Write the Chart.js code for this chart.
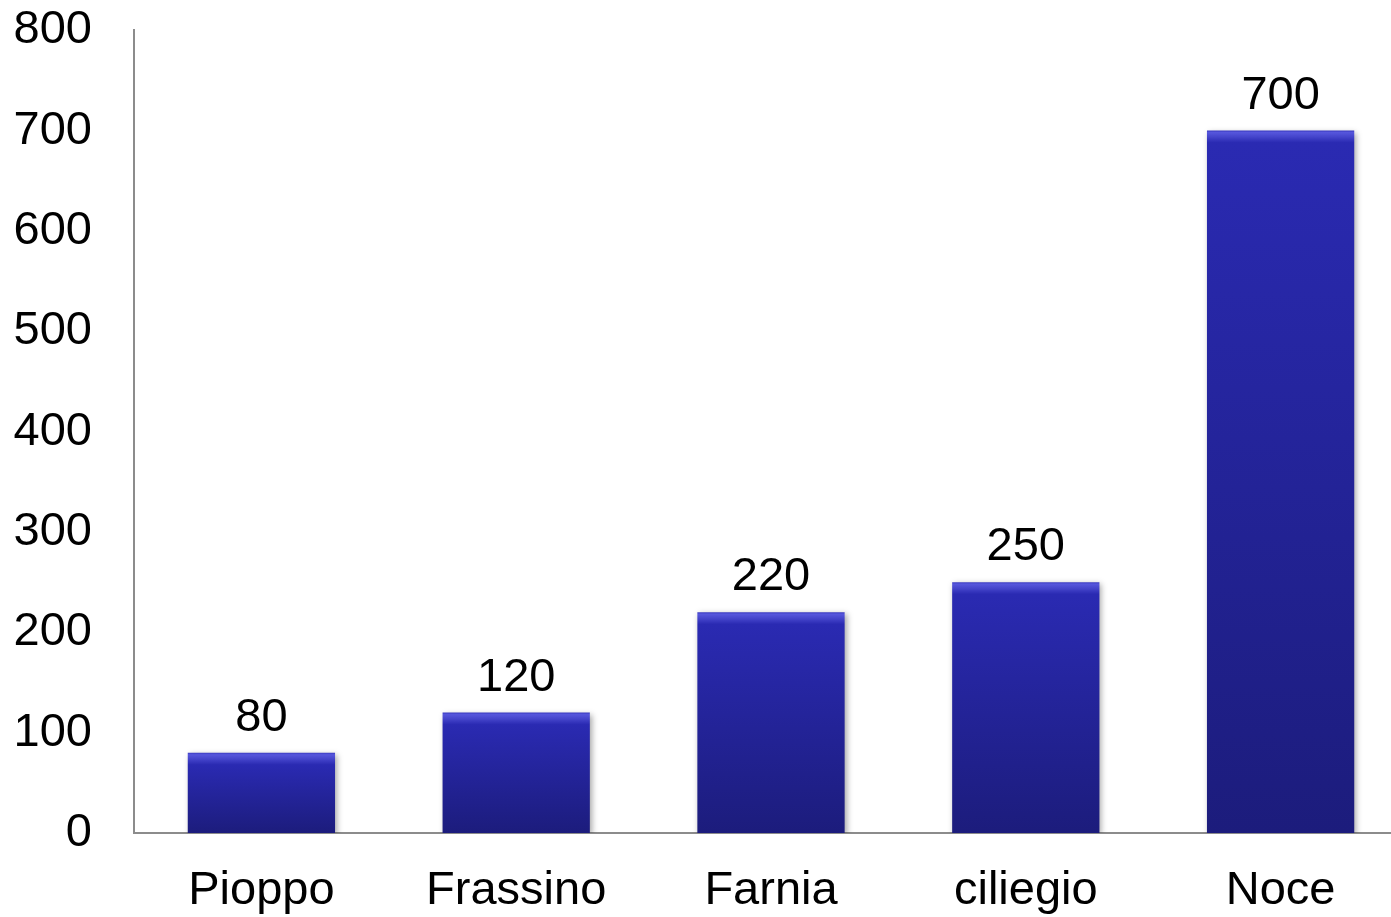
<!DOCTYPE html>
<html>
<head>
<meta charset="utf-8">
<script src="https://cdn.jsdelivr.net/npm/chart.js@4"></script>
<style>
  html, body { margin: 0; padding: 0; background: #fff; overflow: hidden; }
  #wrap { position: relative; width: 1408px; height: 957px; margin-top: -40px; }
</style>
</head>
<body>
<div id="wrap"><canvas id="barChart"></canvas></div>
<script>
// categories and values
const categories = ['Pioppo', 'Frassino', 'Farnia', 'ciliegio', 'Noce'];
const values = [80, 120, 220, 250, 700];
const yTicks = [0, 100, 200, 300, 400, 500, 600, 700, 800];

const font = "'Liberation Sans', Arial, sans-serif";
const fontSize = 47;

// bar fill: light bevel at the top, then a slow darkening towards the base
function barFill(context) {
    const chart = context.chart;
    const yScale = chart.scales.y;
    if (!chart.chartArea || !yScale || context.dataIndex === undefined) return '#2828a8';
    const top = yScale.getPixelForValue(values[context.dataIndex]);
    const bottom = yScale.getPixelForValue(0);
    const h = bottom - top;
    if (!isFinite(h) || h < 20) return '#2828a8';
    const g = chart.ctx.createLinearGradient(0, top, 0, bottom);
    g.addColorStop(0, '#3a3ac0');
    g.addColorStop(2 / h, '#5656dc');
    g.addColorStop(6 / h, '#4646cc');
    g.addColorStop(12 / h, '#2a2ab2');
    g.addColorStop(1, '#1c1c7c');
    return g;
}

// value labels above the bars
const valueLabels = {
    id: 'valueLabels',
    afterDatasetsDraw(chart) {
        const ctx = chart.ctx;
        const meta = chart.getDatasetMeta(0);
        ctx.save();
        ctx.font = fontSize + 'px ' + font;
        ctx.fillStyle = '#000';
        ctx.textAlign = 'center';
        ctx.textBaseline = 'alphabetic';
        meta.data.forEach((bar, i) => {
            ctx.fillText(values[i], bar.x, bar.y - 22);
        });
        ctx.restore();
    }
};

// soft shadow under the bars
const barShadow = {
    id: 'barShadow',
    beforeDatasetsDraw(chart) {
        chart.ctx.save();
        chart.ctx.shadowColor = 'rgba(0,0,0,0.35)';
        chart.ctx.shadowBlur = 6;
        chart.ctx.shadowOffsetX = 2;
        chart.ctx.shadowOffsetY = 2;
    },
    afterDatasetsDraw(chart) {
        chart.ctx.restore();
    }
};

const ctx = document.getElementById('barChart').getContext('2d');
new Chart(ctx, {
    type: 'bar',
    data: {
        labels: categories,
        datasets: [{
            data: values,
            backgroundColor: barFill,
            borderWidth: 0,
            barPercentage: 0.578,
            categoryPercentage: 1
        }]
    },
    plugins: [barShadow, valueLabels],
    options: {
        responsive: true,
        maintainAspectRatio: false,
        animation: false,
        layout: { padding: { top: -5, left: 0, right: 0, bottom: 0 } },
        plugins: {
            legend: { display: false },
            tooltip: { enabled: false }
        },
        scales: {
            x: {
                grid: { display: false, drawTicks: false },
                border: { display: true, color: '#8c8c8c', width: 2 },
                ticks: {
                    color: '#000',
                    font: { family: font, size: fontSize },
                    padding: 30
                },
                afterFit(scale) { scale.height = 84; }
            },
            y: {
                min: 0,
                max: 800,
                afterBuildTicks(scale) {
                    scale.ticks = yTicks.map(v => ({ value: v }));
                },
                grid: { display: false, drawTicks: false },
                border: { display: true, color: '#8c8c8c', width: 2 },
                ticks: {
                    color: '#000',
                    font: { family: font, size: fontSize },
                    padding: 42
                },
                afterFit(scale) { scale.width = 134; }
            }
        }
    }
});
</script>
</body>
</html>
